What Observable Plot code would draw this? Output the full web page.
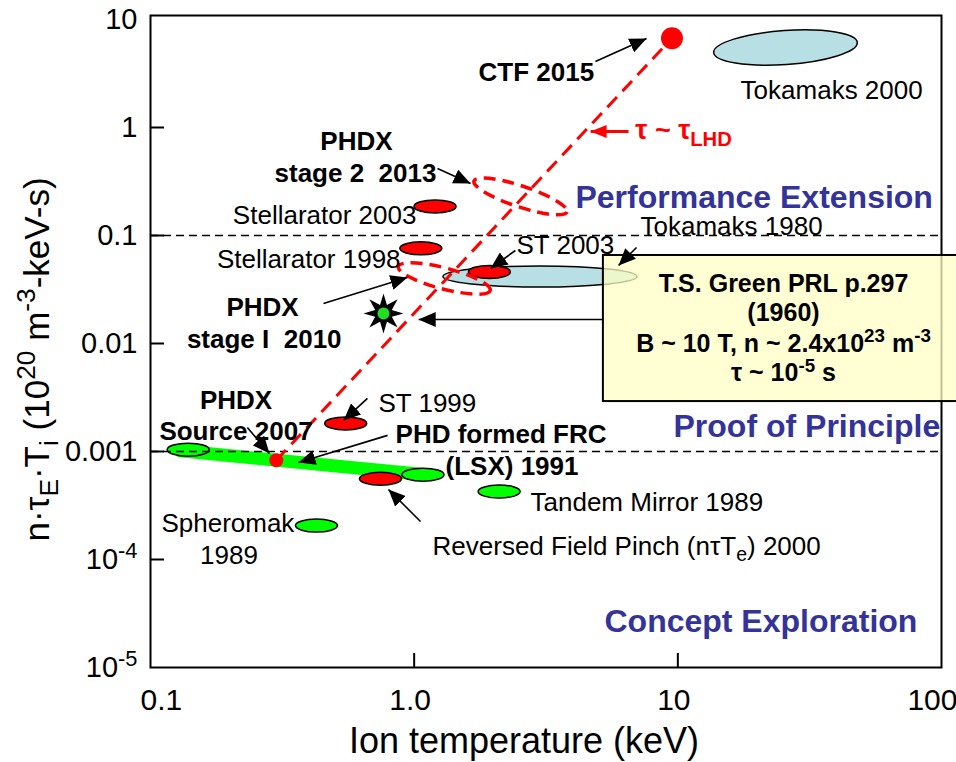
<!DOCTYPE html>
<html>
<head>
<meta charset="utf-8">
<script src="https://cdn.jsdelivr.net/npm/d3@7"></script>
<script src="https://cdn.jsdelivr.net/npm/@observablehq/plot@0.6"></script>
<style>
  body { margin: 0; background: #fff; overflow: hidden; }
  #chart svg { display: block; }
</style>
</head>
<body>
<div id="chart"></div>
<script>
// Ion temperature (keV) and n·τE·Ti (10^20 m^-3 keV s) by device class
const redNames = ["Stellarator 2003", "Stellarator 1998", "ST 2003", "ST 1999", "Reversed Field Pinch 2000"];
const redTi    = [1.2, 1.06, 1.93, 0.55, 0.745];
const redNTT   = [0.186, 0.076, 0.046, 0.00182, 0.00056];

const greenNames = ["PHDX source", "LSX 1991", "Tandem Mirror 1989", "Spheromak 1989"];
const greenTi    = [0.139, 1.08, 2.1, 0.426];
const greenNTT   = [0.00104, 0.00061, 0.000426, 0.000206];

const tokamakNames = ["Tokamaks 2000", "Tokamaks 1980"];
const tokamakTi    = [25.6, 3.0];
const tokamakNTT   = [5.5, 0.0417];

// PHDX road map
const phdxNames = ["Source 2007", "Stage I 2010", "Stage 2 2013", "CTF 2015"];
const phdxTi    = [0.3, 1.3, 2.53, 9.5];
const phdxNTT   = [0.00083, 0.04, 0.23, 6.7];

// T.S. Green, PRL (1960)
const greenExpTi  = [0.765];
const greenExpNTT = [0.019];

// Low-temperature concept band
const bandTi  = [0.127, 1.084];
const bandNTT = [0.00102, 0.000612];

// Axes
const xTicks = [0.1, 1, 10, 100];
const xTickLabels = ["0.1", "1.0", "10", "100"];
const yTicks = [10, 1, 0.1, 0.01, 0.001, 1e-4, 1e-5];
const yTickLabels = ["10", "1", "0.1", "0.01", "0.001", "10^{-4}", "10^{-5}"];
const regionBounds = [0.1, 0.001];

const rows = (names, xs, ys) => names.map((name, i) => ({name, x: xs[i], y: ys[i]}));
const red = rows(redNames, redTi, redNTT);
const green = rows(greenNames, greenTi, greenNTT);
const tokamaks = rows(tokamakNames, tokamakTi, tokamakNTT);
const phdx = rows(phdxNames, phdxTi, phdxNTT);
const greenExp = rows(["T.S. Green 1960"], greenExpTi, greenExpNTT);
const band = bandTi.map((x, i) => ({x, y: bandNTT[i]}));
const lhdLine = [phdx[0], phdx[3]];

const RED = "#ff0000", GREEN = "#00ff00", BLUE = "#b8dfe3", NAVY = "#333399";

// Ellipse outline as a dot symbol (pixel radii, rotation in degrees)
function ellipseSymbol(rx, ry, deg = 0) {
  const a = deg * Math.PI / 180, c = Math.cos(a), s = Math.sin(a), k = 0.5523;
  const P = (x, y) => [x * c - y * s, x * s + y * c];
  return {
    draw(ctx) {
      ctx.moveTo(...P(rx, 0));
      ctx.bezierCurveTo(...P(rx, k * ry), ...P(k * rx, ry), ...P(0, ry));
      ctx.bezierCurveTo(...P(-k * rx, ry), ...P(-rx, k * ry), ...P(-rx, 0));
      ctx.bezierCurveTo(...P(-rx, -k * ry), ...P(-k * rx, -ry), ...P(0, -ry));
      ctx.bezierCurveTo(...P(k * rx, -ry), ...P(rx, -k * ry), ...P(rx, 0));
      ctx.closePath();
    }
  };
}
const starSymbol = {
  draw(ctx) {
    for (let i = 0; i < 16; i++) {
      const r = i % 2 ? 9 : 20, a = Math.PI * i / 8 - Math.PI / 2;
      const p = [r * Math.cos(a), r * Math.sin(a)];
      i ? ctx.lineTo(...p) : ctx.moveTo(...p);
    }
    ctx.closePath();
  }
};
const smallEllipse = ellipseSymbol(21, 6.5);

// Annotations (data coordinates)
const box = [{x1: 5.22, x2: 120, y1: 0.0653, y2: 0.0029}];
const blackArrows = [
  {x1: 4.87, y1: 4.08, x2: 7.61, y2: 6.67},
  {x1: 1.226, y1: 0.417, x2: 1.636, y2: 0.303},
  {x1: 6.97, y1: 0.0774, x2: 5.96, y2: 0.0527},
  {x1: 2.42, y1: 0.0726, x2: 1.948, y2: 0.0495},
  {x1: 0.453, y1: 0.0235, x2: 0.943, y2: 0.0409},
  {x1: 5.22, y1: 0.01668, x2: 1.04, y2: 0.01668},
  {x1: 0.665, y1: 0.0031, x2: 0.54, y2: 0.00194},
  {x1: 0.233, y1: 0.00167, x2: 0.2826, y2: 0.000958},
  {x1: 0.793, y1: 0.00141, x2: 0.364, y2: 0.000791},
  {x1: 1.057, y1: 0.000225, x2: 0.799, y2: 0.000445}
];
const redArrows = [{x1: 6.5, y1: 0.918, x2: 4.67, y2: 0.918}];

const regular = {fontSize: 26, fill: "black"};
const bold = {fontSize: 26, fontWeight: "bold", fill: "black"};
const region = {fontSize: 32, fontWeight: "bold", fill: NAVY};
const boxText = {fontSize: 25, fontWeight: "bold", fill: "black"};
const labels = [
  {text: "CTF 2015", x: 1.754, y: 2.72, anchor: "start", style: bold},
  {text: "Tokamaks 2000", x: 17.3, y: 1.82, anchor: "start", style: regular},
  {text: "τ ~ τ_{LHD}", x: 6.9, y: 0.79, anchor: "start", style: {fontSize: 27, fontWeight: "bold", fill: RED}},
  {text: "PHDX", x: 0.604, y: 0.625, anchor: "middle", style: bold},
  {text: "stage 2\u00a0 2013", x: 0.599, y: 0.316, anchor: "middle", style: bold},
  {text: "Performance Extension", x: 4.09, y: 0.178, anchor: "start", style: region},
  {text: "Stellarator 2003", x: 1.02, y: 0.1265, anchor: "end", style: regular},
  {text: "Tokamaks 1980", x: 7.22, y: 0.1021, anchor: "start", style: regular},
  {text: "Stellarator 1998", x: 0.888, y: 0.0495, anchor: "end", style: regular},
  {text: "ST 2003", x: 2.443, y: 0.0667, anchor: "start", style: regular},
  {text: "PHDX", x: 0.266, y: 0.01816, anchor: "middle", style: bold},
  {text: "stage I\u00a0 2010", x: 0.27, y: 0.00918, anchor: "middle", style: bold},
  {text: "PHDX", x: 0.211, y: 0.0025, anchor: "middle", style: bold},
  {text: "Source 2007", x: 0.211, y: 0.001265, anchor: "middle", style: bold},
  {text: "ST 1999", x: 0.732, y: 0.0023, anchor: "start", style: regular},
  {text: "PHD formed FRC", x: 0.85, y: 0.001186, anchor: "start", style: bold},
  {text: "(LSX) 1991", x: 1.315, y: 0.0006, anchor: "start", style: bold},
  {text: "Proof of Principle", x: 9.63, y: 0.001349, anchor: "start", style: region},
  {text: "Tandem Mirror 1989", x: 2.762, y: 0.000284, anchor: "start", style: regular},
  {text: "Spheromak", x: 0.110, y: 0.000178, anchor: "start", style: regular},
  {text: "1989", x: 0.1985, y: 0.0000899, anchor: "middle", style: regular},
  {text: "Reversed Field Pinch (nτT_{e}) 2000", x: 1.174, y: 0.000111, anchor: "start", style: regular},
  {text: "Concept Exploration", x: 5.27, y: 0.0000211, anchor: "start", style: region},
  {text: "T.S. Green PRL p.297", x: 25.16, y: 0.0303, anchor: "middle", style: boxText},
  {text: "(1960)", x: 25.16, y: 0.016, anchor: "middle", style: boxText},
  {text: "B ~ 10 T, n ~ 2.4x10^{23} m^{-3}", x: 25.16, y: 0.00843, anchor: "middle", style: boxText},
  {text: "τ ~ 10^{-5} s", x: 25.16, y: 0.00445, anchor: "middle", style: boxText}
];

const xy = {x: "x", y: "y"};
const svg = Plot.plot({
  width: 956,
  height: 762,
  marginLeft: 150,
  marginRight: 15,
  marginTop: 19,
  marginBottom: 95,
  x: {type: "log", domain: [0.1, 100], axis: null},
  y: {type: "log", domain: [1e-5, 10], axis: null},
  style: {fontFamily: "'Liberation Sans', Arial, Helvetica, sans-serif", background: "white", overflow: "visible"},
  marks: [
    Plot.frame({stroke: "black", strokeWidth: 2, insetTop: -4}),
    Plot.tickY(yTicks.slice(1, -1), {y: d => d, stroke: "black", strokeWidth: 2, insetRight: 777}),
    Plot.tickX(xTicks.slice(1, -1), {x: d => d, stroke: "black", strokeWidth: 2, insetTop: 634}),

    // low-temperature band and device ellipses
    Plot.line(band, {...xy, stroke: GREEN, strokeWidth: 13, strokeLinecap: "butt"}),
    Plot.dot(tokamaks.slice(0, 1), {...xy, symbol: ellipseSymbol(72, 17, -4), fill: BLUE, stroke: "black", strokeWidth: 1.5}),
    Plot.dot(tokamaks.slice(1), {...xy, symbol: ellipseSymbol(97, 10.5), fill: BLUE, stroke: "black", strokeWidth: 1.5}),
    Plot.dot(red, {...xy, symbol: smallEllipse, fill: RED, stroke: "black", strokeWidth: 1.5}),
    Plot.dot(green, {...xy, symbol: smallEllipse, fill: GREEN, stroke: "black", strokeWidth: 1.5}),
    Plot.ruleY(regionBounds, {stroke: "black", strokeWidth: 1.3, strokeDasharray: "8,5"}),

    // PHDX stages
    Plot.dot(phdx.slice(1, 2), {...xy, symbol: ellipseSymbol(47.5, 10.5, 14.6), stroke: RED, strokeWidth: 3.5, strokeDasharray: "12,7", fill: "none"}),
    Plot.dot(phdx.slice(2, 3), {...xy, symbol: ellipseSymbol(49, 10.5, 18.4), stroke: RED, strokeWidth: 3.5, strokeDasharray: "12,7", fill: "none"}),
    Plot.line(lhdLine, {...xy, stroke: RED, strokeWidth: 3, strokeDasharray: "14,8", strokeLinecap: "butt"}),
    Plot.dot(phdx.slice(0, 1), {...xy, r: 7, fill: RED}),
    Plot.dot(phdx.slice(3), {...xy, r: 11, fill: RED}),
    Plot.dot(greenExp, {...xy, symbol: starSymbol, fill: "black", stroke: "none"}),
    Plot.dot(greenExp, {...xy, r: 6, fill: "#22dd22"}),

    // T.S. Green note
    Plot.rect(box, {x1: "x1", x2: "x2", y1: "y1", y2: "y2", fill: "#ffffc4", fillOpacity: 0.75, stroke: "black", strokeWidth: 2}),

    // arrows
    Plot.link(blackArrows, {x1: "x1", y1: "y1", x2: "x2", y2: "y2", stroke: "black", strokeWidth: 1.6}),
    Plot.link(redArrows, {x1: "x1", y1: "y1", x2: "x2", y2: "y2", stroke: RED, strokeWidth: 3}),

    // labels
    ...labels.map(d => Plot.text([d], {...xy, text: "text", textAnchor: d.anchor, lineAnchor: "bottom", ...d.style})),

    // tick labels
    Plot.text(yTicks, {y: d => d, text: (d, i) => yTickLabels[i], frameAnchor: "left", textAnchor: "end", dx: -13, fontSize: 29, fill: "black"}),
    Plot.text(xTicks.slice(0, 1), {x: d => d, text: () => xTickLabels[0], frameAnchor: "bottom", textAnchor: "start", lineAnchor: "bottom", dx: -10, dy: 42, fontSize: 30, fill: "black"}),
    Plot.text(xTicks.slice(1, 3), {x: d => d, text: (d, i) => xTickLabels[i + 1], frameAnchor: "bottom", lineAnchor: "bottom", dx: -4, dy: 42, fontSize: 30, fill: "black"}),
    Plot.text(xTicks.slice(3), {x: d => d, text: () => xTickLabels[3], frameAnchor: "bottom", textAnchor: "end", lineAnchor: "bottom", dx: 16, dy: 42, fontSize: 30, fill: "black"}),

    // axis titles
    Plot.text(["Ion temperature (keV)"], {text: d => d, frameAnchor: "bottom", textAnchor: "middle", lineAnchor: "bottom", dx: -22, dy: 85, fontSize: 36, fill: "black"}),
    Plot.text(["n·τ_{E}·T_{i} (10^{20} m^{-3}-keV-s)"], {text: d => d, frameAnchor: "left", textAnchor: "middle", rotate: -90, lineAnchor: "bottom", dx: -102, dy: 16, fontSize: 35, fill: "black"})
  ]
});

document.getElementById("chart").appendChild(svg);

const SVGNS = "http://www.w3.org/2000/svg";
const el = (name, attrs) => {
  const e = document.createElementNS(SVGNS, name);
  for (const [k, v] of Object.entries(attrs)) e.setAttribute(k, v);
  return e;
};

// Filled arrowheads
const defs = el("defs", {});
function head(id, color, len, half) {
  const m = el("marker", {id, viewBox: `0 ${-half} ${len} ${2 * half}`, refX: len, refY: 0,
    markerWidth: len, markerHeight: 2 * half, markerUnits: "userSpaceOnUse", orient: "auto"});
  m.appendChild(el("path", {d: `M0,${-half}L${len},0L0,${half}Z`, fill: color}));
  defs.appendChild(m);
}
head("head-black", "black", 17, 7.5);
head("head-red", RED, 16, 6.5);
svg.insertBefore(defs, svg.firstChild);
const linkGroups = svg.querySelectorAll('g[aria-label="link"]');
linkGroups[0].querySelectorAll("path").forEach(p => p.setAttribute("marker-end", "url(#head-black)"));
linkGroups[1].querySelectorAll("path").forEach(p => p.setAttribute("marker-end", "url(#head-red)"));

// Sub- and superscripts written as _{…} and ^{…}
svg.querySelectorAll("text").forEach(t => {
  const s = t.textContent;
  if (!/[_^]\{/.test(s)) return;
  const fs = parseFloat(getComputedStyle(t).fontSize);
  t.textContent = "";
  const re = /([_^])\{([^}]*)\}|([^_^]+)/g;
  let m, shift = 0;
  while ((m = re.exec(s))) {
    const ts = document.createElementNS(SVGNS, "tspan");
    let target = 0;
    if (m[1]) {
      target = m[1] === "^" ? -0.38 * fs : 0.26 * fs;
      ts.setAttribute("font-size", (0.75 * fs).toFixed(1));
      ts.textContent = m[2];
    } else {
      ts.textContent = m[3];
    }
    if (target !== shift) ts.setAttribute("dy", (target - shift).toFixed(1));
    shift = target;
    t.appendChild(ts);
  }
});
</script>
</body>
</html>
